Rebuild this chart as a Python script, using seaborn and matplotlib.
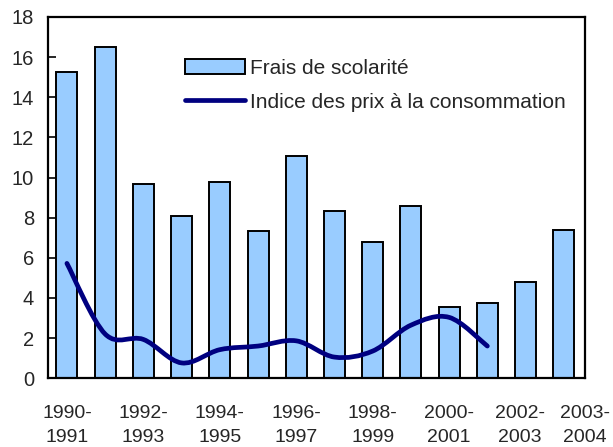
import numpy as np
import pandas as pd
import matplotlib
matplotlib.use("Agg")
import matplotlib.pyplot as plt
from matplotlib.path import Path
from matplotlib.patches import PathPatch
from matplotlib.lines import Line2D
import seaborn as sns

# Données (variation annuelle, %)
annees = ["1990-1991", "1991-1992", "1992-1993", "1993-1994", "1994-1995",
          "1995-1996", "1996-1997", "1997-1998", "1998-1999", "1999-2000",
          "2000-2001", "2001-2002", "2002-2003", "2003-2004"]
frais = [15.25, 16.5, 9.7, 8.07, 9.77, 7.35, 11.07, 8.35, 6.8, 8.6, 3.55, 3.75, 4.8, 7.37]
ipc = [5.72, 2.2, 1.93, 0.76, 1.42, 1.6, 1.86, 1.05, 1.35, 2.64, 3.03, 1.6]
annees_etiquetees = ["1990-1991", "1992-1993", "1994-1995", "1996-1997",
                     "1998-1999", "2000-2001", "2002-2003", "2003-2004"]
y_ticks = [0, 2, 4, 6, 8, 10, 12, 14, 16, 18]

BLEU_CLAIR = "#99CCFF"
MARINE = "#000080"

sns.set_style("white")
plt.rcParams["font.family"] = ["Liberation Sans", "DejaVu Sans"]
plt.rcParams["font.size"] = 14

df = pd.DataFrame({"annee": annees, "frais": frais})

fig = plt.figure(figsize=(6.13, 4.47), dpi=100)
ax = fig.add_axes([0.078, 0.154, 0.876, 0.808])

sns.barplot(data=df, x="annee", y="frais", order=annees, color=BLEU_CLAIR,
            saturation=1, width=0.55, edgecolor="black", linewidth=1.4, ax=ax)

# courbe lissée (Bézier type Excel) passant par les points IPC
pts = np.column_stack([np.arange(len(ipc)), ipc]).astype(float)
verts, codes = [pts[0]], [Path.MOVETO]
for i in range(len(pts) - 1):
    p0 = pts[max(i - 1, 0)]
    p1, p2 = pts[i], pts[i + 1]
    p3 = pts[min(i + 2, len(pts) - 1)]
    verts += [p1 + (p2 - p0) / 6, p2 - (p3 - p1) / 6, p2]
    codes += [Path.CURVE4] * 3
ax.add_patch(PathPatch(Path(verts, codes), facecolor="none", edgecolor=MARINE,
                       lw=3.4, capstyle="round", joinstyle="round", zorder=3))

ax.set_xlim(-0.5, len(annees) - 0.5)
ax.set_ylim(0, 18)
ax.set_yticks(y_ticks)
ax.set_xlabel("")
ax.set_ylabel("")

pos = [annees.index(a) for a in annees_etiquetees]
pos[-2] -= 0.15
pos[-1] += 0.55
ax.set_xticks(pos)
ax.set_xticklabels([a.replace("-", "-\n") for a in annees_etiquetees], linespacing=1.55)
ax.tick_params(axis="x", length=0, pad=19, labelsize=14)
ax.tick_params(axis="y", direction="in", length=6, width=1.4, left=True, pad=10, labelsize=14.5)

for sp in ax.spines.values():
    sp.set_visible(True)
    sp.set_color("black")
    sp.set_linewidth(1.6)

handles = [plt.Rectangle((0, 0), 1, 1, facecolor=BLEU_CLAIR, edgecolor="black", lw=1.4),
           Line2D([], [], color=MARINE, lw=3.4)]
ax.legend(handles, ["Frais de scolarité", "Indice des prix à la consommation"],
          loc="upper left", bbox_to_anchor=(0.255, 0.885), frameon=False,
          borderpad=0, borderaxespad=0, handlelength=2.9, handleheight=0.8,
          handletextpad=0.25, labelspacing=0.7, fontsize=15)

fig.savefig("out.png", dpi=100)
